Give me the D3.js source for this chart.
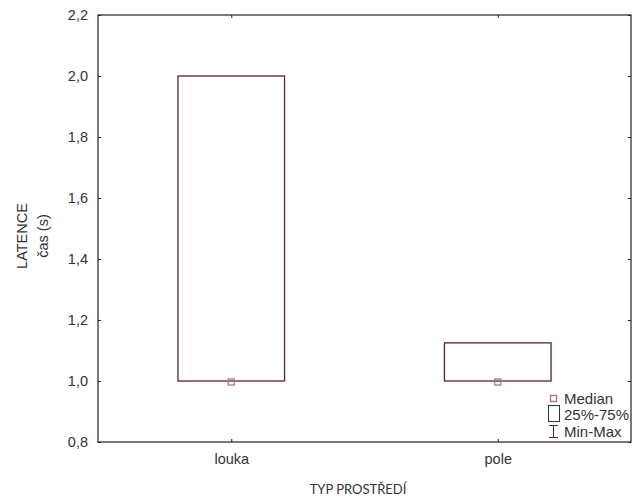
<!DOCTYPE html>
<html>
<head>
<meta charset="utf-8">
<script src="https://cdn.jsdelivr.net/npm/d3@7"></script>
<style>
  html, body { margin: 0; padding: 0; background: #fff; }
  svg { display: block; }
  text { font-family: "Liberation Sans", Arial, sans-serif; fill: #333; }
</style>
</head>
<body>
<svg id="chart" width="638" height="500"></svg>
<script>
// Latency box plot by habitat type
const categories = ["louka", "pole"];
const medians = [1.0, 1.0];
const q1 = [1.0, 1.0];
const q3 = [2.0, 1.125];
const mins = [1.0, 1.0];
const maxs = [2.0, 1.125];
const yTicks = [0.8, 1.0, 1.2, 1.4, 1.6, 1.8, 2.0, 2.2];
const legendItems = ["Median", "25%-75%", "Min-Max"];

(function () {
const svg = d3.select("#chart");
const plot = { left: 98, right: 631, top: 15, bottom: 442 };

const x = d3.scalePoint().domain(categories).range([plot.left, plot.right]).padding(0.5);
const y = d3.scaleLinear().domain([0.8, 2.2]).range([plot.bottom, plot.top]);
const boxW = x.step() * 0.4;

const boxColor = "#5e2424";
const medColor = "#b07484";
const axisColor = "#222";
const fmt = v => d3.format(".1f")(v).replace(".", ",");

// frame
svg.append("rect")
  .attr("x", plot.left).attr("y", plot.top)
  .attr("width", plot.right - plot.left).attr("height", plot.bottom - plot.top)
  .attr("fill", "none").attr("stroke", axisColor).attr("stroke-width", 1.2);

// y axis (ticks pointing inward), labels on the left
const yAxis = d3.axisLeft(y).tickValues(yTicks).tickSize(-3).tickPadding(10).tickFormat(fmt);
const gy = svg.append("g").attr("transform", `translate(${plot.left},0)`).call(yAxis);
gy.select(".domain").remove();
gy.selectAll("line").attr("stroke", axisColor);
gy.selectAll("text").style("font-size", "14.5px").attr("fill", "#333");

// right-side inward ticks
const gyr = svg.append("g").attr("transform", `translate(${plot.right},0)`)
  .call(d3.axisRight(y).tickValues(yTicks).tickSize(-3).tickFormat(""));
gyr.select(".domain").remove();
gyr.selectAll("line").attr("stroke", axisColor);

// x axis
const xAxis = d3.axisBottom(x).tickSize(-3).tickPadding(12);
const gx = svg.append("g").attr("transform", `translate(0,${plot.bottom})`).call(xAxis);
gx.select(".domain").remove();
gx.selectAll("line").attr("stroke", axisColor);
gx.selectAll("text").style("font-size", "14.5px").attr("fill", "#333");

const gxt = svg.append("g").attr("transform", `translate(0,${plot.top})`)
  .call(d3.axisTop(x).tickSize(-3).tickFormat(""));
gxt.select(".domain").remove();
gxt.selectAll("line").attr("stroke", axisColor);

// whiskers (min-max)
categories.forEach((c, i) => {
  const cx = x(c);
  if (maxs[i] > q3[i]) {
    svg.append("line").attr("x1", cx).attr("x2", cx).attr("y1", y(q3[i])).attr("y2", y(maxs[i])).attr("stroke", boxColor);
    svg.append("line").attr("x1", cx - 5).attr("x2", cx + 5).attr("y1", y(maxs[i])).attr("y2", y(maxs[i])).attr("stroke", boxColor);
  }
  if (mins[i] < q1[i]) {
    svg.append("line").attr("x1", cx).attr("x2", cx).attr("y1", y(q1[i])).attr("y2", y(mins[i])).attr("stroke", boxColor);
    svg.append("line").attr("x1", cx - 5).attr("x2", cx + 5).attr("y1", y(mins[i])).attr("y2", y(mins[i])).attr("stroke", boxColor);
  }
});

// boxes (25%-75%)
svg.selectAll("rect.box").data(categories).join("rect")
  .attr("class", "box")
  .attr("x", d => x(d) - boxW / 2)
  .attr("y", (d, i) => y(q3[i]))
  .attr("width", boxW)
  .attr("height", (d, i) => y(q1[i]) - y(q3[i]))
  .attr("fill", "none")
  .attr("stroke", boxColor)
  .attr("stroke-width", 1.3);

// medians
svg.selectAll("rect.med").data(categories).join("rect")
  .attr("class", "med")
  .attr("x", d => x(d) - 3)
  .attr("y", (d, i) => y(medians[i]) - 2)
  .attr("width", 6).attr("height", 6)
  .attr("fill", "none")
  .attr("stroke", medColor)
  .attr("stroke-width", 1.3);

// legend
const lg = svg.append("g");
lg.append("rect").attr("x", 550.5).attr("y", 395.5).attr("width", 6).attr("height", 6)
  .attr("fill", "none").attr("stroke", medColor).attr("stroke-width", 1.4);
lg.append("rect").attr("x", 548.5).attr("y", 405.5).attr("width", 11).attr("height", 16)
  .attr("fill", "none").attr("stroke", "#333").attr("stroke-width", 1);
lg.append("line").attr("x1", 553.5).attr("x2", 553.5).attr("y1", 425).attr("y2", 438).attr("stroke", boxColor);
lg.append("line").attr("x1", 549).attr("x2", 558).attr("y1", 425.5).attr("y2", 425.5).attr("stroke", boxColor);
lg.append("line").attr("x1", 549).attr("x2", 558).attr("y1", 437.5).attr("y2", 437.5).attr("stroke", boxColor);
lg.selectAll("text").data(legendItems).join("text")
  .attr("x", 564)
  .attr("y", (d, i) => 403.5 + i * 16.5)
  .style("font-size", "15px")
  .text(d => d);

// axis titles
const yt = svg.append("text")
  .attr("transform", "translate(27,236) rotate(-90)")
  .attr("text-anchor", "middle")
  .style("font-size", "14.5px");
yt.append("tspan").attr("x", 0).attr("dy", 0).text("LATENCE");
yt.append("tspan").attr("x", 0).attr("dy", 21).text("čas (s)");

svg.append("text")
  .attr("x", 358).attr("y", 494)
  .attr("text-anchor", "middle")
  .style("font-family", "Lato, sans-serif")
  .style("font-size", "13px")
  .text("TYP PROSTŘEDÍ");
})();
</script>
</body>
</html>
